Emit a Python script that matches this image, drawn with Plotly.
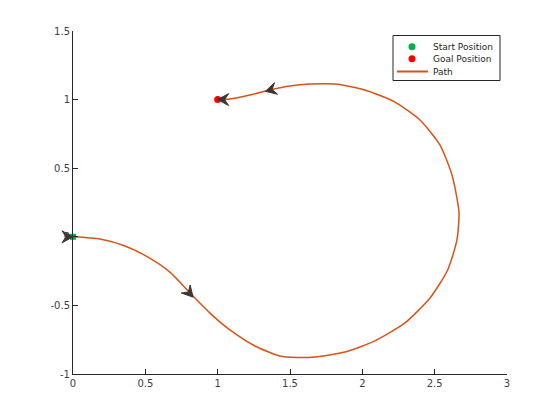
import math
import plotly.graph_objects as go

# Path samples (x, y)
path_x = [0.0, 0.187, 0.36, 0.53, 0.67, 0.81, 0.947, 1.085, 1.258, 1.43, 1.55, 1.673, 1.88, 2.087,
          2.295, 2.468, 2.59, 2.654, 2.668, 2.62, 2.537, 2.4, 2.226, 2.018, 1.811, 1.638, 1.5,
          1.362, 1.223, 1.085, 1.0]
path_y = [0.0, -0.016, -0.067, -0.155, -0.257, -0.41, -0.556, -0.679, -0.796, -0.869, -0.88, -0.876,
          -0.84, -0.759, -0.628, -0.446, -0.242, -0.023, 0.181, 0.45, 0.669, 0.85, 0.982, 1.07,
          1.113, 1.113, 1.099, 1.07, 1.033, 1.004, 1.0]

# Poses drawn as arrowheads (x, y, heading in degrees)
pose_x = [0.0, 0.83, 1.33, 1.0]
pose_y = [0.0, -0.44, 1.06, 1.0]
pose_heading = [0, -48, 195, 180]

start_xy = [0.0, 0.0]
goal_xy = [1.0, 1.0]

x_ticks = [0, 0.5, 1, 1.5, 2, 2.5, 3]
y_ticks = [-1, -0.5, 0, 0.5, 1, 1.5]
x_labels = ["0", "0.5", "1", "1.5", "2", "2.5", "3"]
y_labels = ["-1", "-0.5", "0", "0.5", "1", "1.5"]

legend_names = ["Start Position", "Goal Position", "Path"]

X_RANGE = [0, 3]
Y_RANGE = [-1, 1.5]
W, H = 560, 420
ML, MR, MT, MB = 73, 53, 31, 46
PW, PH = W - ML - MR, H - MT - MB

C_PATH = "#D95319"
C_START = "#00B050"
C_GOAL = "#FF0000"
C_ARROW = "#3E3636"


def pxx(p):
    return (p - ML) / PW


def pxy(p):
    return (H - MB - p) / PH


def dx2paper(x):
    return (x - X_RANGE[0]) / (X_RANGE[1] - X_RANGE[0])


def dy2paper(y):
    return (y - Y_RANGE[0]) / (Y_RANGE[1] - Y_RANGE[0])


fig = go.Figure()

# path
fig.add_trace(go.Scatter(
    x=path_x, y=path_y, mode="lines", showlegend=False,
    line=dict(color=C_PATH, width=1.5, shape="spline", smoothing=0.6),
))

fig.add_trace(go.Scatter(
    x=[start_xy[0]], y=[start_xy[1]], mode="markers", showlegend=False, cliponaxis=False,
    marker=dict(color=C_START, size=6, symbol="square"),
))
fig.add_trace(go.Scatter(
    x=[goal_xy[0]], y=[goal_xy[1]], mode="markers", showlegend=False, cliponaxis=False,
    marker=dict(color=C_GOAL, size=7, symbol="circle"),
))

# arrowheads as dart paths (tip at the pose), sized in pixels, in paper coords (not clipped)
dart = [(0, 0), (-11, 6), (-7, 0), (-11, -6)]
for px_, py_, h in zip(pose_x, pose_y, pose_heading):
    th = math.radians(h)
    cx, cy = dx2paper(px_), dy2paper(py_)
    pts = []
    for u, v in dart:
        du = u * math.cos(th) - v * math.sin(th)
        dv = u * math.sin(th) + v * math.cos(th)
        pts.append((cx + du / PW, cy + dv / PH))
    path = "M " + " L ".join(f"{a:.5f},{b:.5f}" for a, b in pts) + " Z"
    fig.add_shape(type="path", xref="paper", yref="paper", path=path,
                  fillcolor=C_ARROW, line=dict(color=C_ARROW, width=1), layer="above")

axis_common = dict(
    showgrid=False, zeroline=False, showline=True, linecolor="#262626", linewidth=1,
    ticks="inside", ticklen=5, tickcolor="#262626", mirror=False,
    tickfont=dict(family="DejaVu Sans", size=10, color="#404040"),
)
fig.update_xaxes(range=X_RANGE, tickvals=x_ticks, ticktext=x_labels, **axis_common)
fig.update_yaxes(range=Y_RANGE, tickvals=y_ticks, ticktext=y_labels, **axis_common)

# manual legend
box = dict(x0=393, x1=500, y0=35.5, y1=80.5)
row_y = [46.7, 58.7, 71.5]
fig.add_shape(type="rect", xref="paper", yref="paper",
              x0=pxx(box["x0"]), x1=pxx(box["x1"]), y0=pxy(box["y1"]), y1=pxy(box["y0"]),
              line=dict(color="#262626", width=1), fillcolor="white", layer="below")
fig.add_trace(go.Scatter(
    x=[pxx(412), pxx(412)], y=[pxy(row_y[0]), pxy(row_y[1])], xaxis="x2", yaxis="y2",
    mode="markers", showlegend=False, hoverinfo="skip",
    marker=dict(color=[C_START, C_GOAL], size=7, symbol="circle"),
))
fig.add_trace(go.Scatter(
    x=[pxx(397), pxx(428)], y=[pxy(row_y[2]), pxy(row_y[2])], xaxis="x2", yaxis="y2",
    mode="lines", showlegend=False, hoverinfo="skip",
    line=dict(color=C_PATH, width=2),
))
for name, ry in zip(legend_names, row_y):
    fig.add_annotation(xref="paper", yref="paper", x=pxx(431), y=pxy(ry),
                       text=name, showarrow=False, xanchor="left", yanchor="middle",
                       font=dict(family="DejaVu Sans", size=9, color="#262626"))

fig.update_layout(
    width=W, height=H,
    margin=dict(l=ML, r=MR, t=MT, b=MB),
    paper_bgcolor="white", plot_bgcolor="white",
    showlegend=False,
    xaxis2=dict(overlaying="x", range=[0, 1], visible=False, fixedrange=True),
    yaxis2=dict(overlaying="y", range=[0, 1], visible=False, fixedrange=True),
)

fig.write_html("out.html", config={"displayModeBar": False},
               post_script="document.body.style.margin='0';")
